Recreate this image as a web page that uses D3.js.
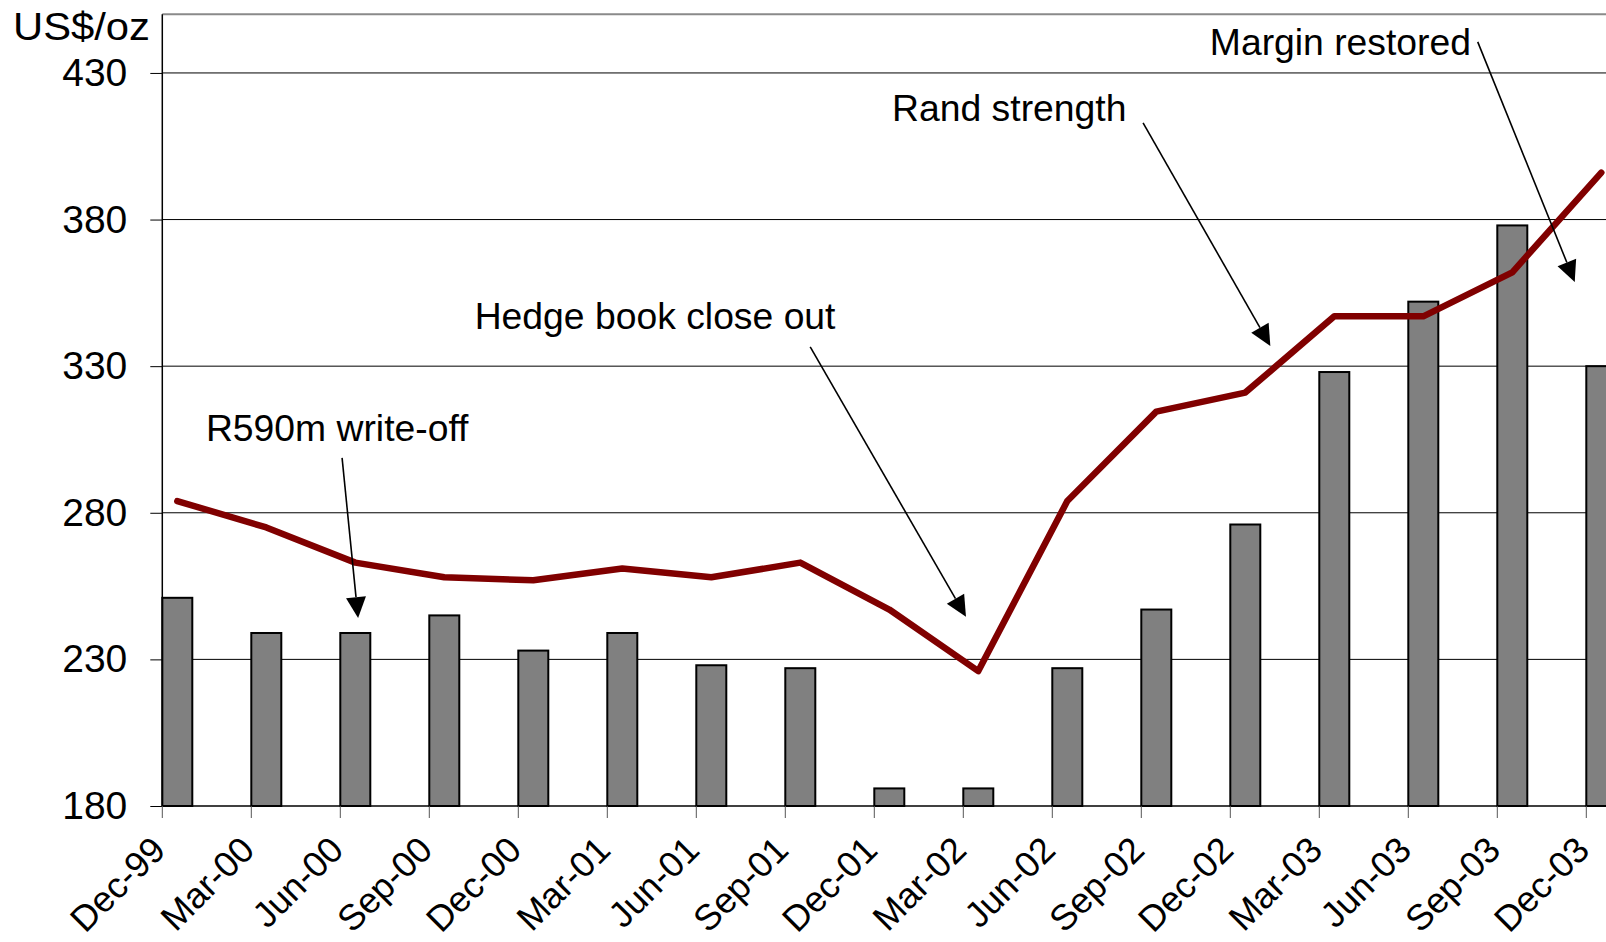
<!DOCTYPE html>
<html><head><meta charset="utf-8">
<script src="https://cdn.jsdelivr.net/npm/d3@7"></script>
<style>html,body{margin:0;padding:0;background:#fff;overflow:hidden}</style>
</head><body><svg id="c" width="1606" height="942"></svg>
<script>
// ---- data ----
const categories = ["Dec-99","Mar-00","Jun-00","Sep-00","Dec-00","Mar-01","Jun-01","Sep-01","Dec-01","Mar-02","Jun-02","Sep-02","Dec-02","Mar-03","Jun-03","Sep-03","Dec-03"];
const barValues  = [251, 239, 239, 245, 233, 239, 228, 227, 186, 186, 227, 247, 276, 328, 352, 378, 330];
const lineValues = [284, 275, 263, 258, 257, 261, 258, 263, 247, 226, 284, 314.5, 321, 347, 347, 362, 396];
const yTicks = [180, 230, 280, 330, 380, 430];
const yUnit = "US$/oz";
const annTexts = ["R590m write-off", "Hedge book close out", "Rand strength", "Margin restored"];
// annotation anchors in data space: [category index, value]
const annTextAt = [[0.49, 304.5], [3.51, 342.7], [8.20, 413.6], [11.77, 436.1]];
const annFrom   = [[2.02, 298.7], [7.28, 336.6], [11.02, 413.0], [14.78, 440.6]];
const annTip    = [[2.20, 244.1], [9.03, 244.5], [12.45, 336.9], [15.87, 358.7]];

(function () {
// ---- layout ----
const W = 1606, H = 942;
const pLeft = 162.3, pTop = 14.3, pBottom = 806;
const step = 89;
const font = "'Liberation Sans', Arial, Helvetica, sans-serif";

const svg = d3.select("#c");
const x = d3.scaleBand().domain(categories).range([pLeft, pLeft + step * categories.length]).paddingInner(0).paddingOuter(0);
const xi = d3.scaleLinear().domain([0, 1]).range([pLeft, pLeft + x.step()]);
const y = d3.scaleLinear().domain([180, 450]).range([pBottom, pTop]);
const barW = 30;

// gridlines
svg.append("g").selectAll("line").data(yTicks.slice(1)).join("line")
  .attr("x1", pLeft).attr("x2", W).attr("y1", d => y(d)).attr("y2", d => y(d))
  .attr("stroke", "#000").attr("stroke-width", 1);

// top border
svg.append("line").attr("x1", pLeft).attr("x2", W).attr("y1", y(450)).attr("y2", y(450))
  .attr("stroke", "#8a8a8a").attr("stroke-width", 2);

// bars
svg.append("g").selectAll("rect").data(categories).join("rect")
  .attr("x", d => x(d)).attr("width", barW)
  .attr("y", (d, i) => y(barValues[i])).attr("height", (d, i) => y(180) - y(barValues[i]))
  .attr("fill", "#808080").attr("stroke", "#000").attr("stroke-width", 2);

// y axis
const yAxis = d3.axisLeft(y).tickValues(yTicks).tickSize(12).tickPadding(23).tickFormat(d3.format("d"));
const gy = svg.append("g").attr("transform", `translate(${pLeft},0)`).call(yAxis);
gy.select(".domain").attr("stroke", "#000").attr("stroke-width", 1.5).attr("d", `M0,${y(450)}V${y(180)}`);
gy.selectAll(".tick line").attr("stroke", "#000");
gy.selectAll(".tick text").attr("font-family", font).attr("font-size", 39).attr("fill", "#000");

// x axis
const xAxis = d3.axisBottom(x).tickSize(12).tickSizeOuter(0);
const gx = svg.append("g").attr("transform", `translate(0,${pBottom})`).call(xAxis);
gx.select(".domain").attr("stroke", "#000").attr("stroke-width", 1.5).attr("d", `M${pLeft},0H${W}`);
gx.selectAll(".tick").attr("transform", d => `translate(${x(d)},0)`);
gx.selectAll(".tick line").attr("stroke", "#555");
gx.selectAll(".tick text")
  .attr("font-family", font).attr("font-size", 36).attr("fill", "#000")
  .attr("text-anchor", "end").attr("dy", null).attr("y", null)
  .attr("transform", "translate(5,46) rotate(-45)");

// line
const line = d3.line().x((d, i) => x(categories[i]) + barW / 2).y(d => y(d));
svg.append("path").datum(lineValues).attr("d", line)
  .attr("fill", "none").attr("stroke", "#800000").attr("stroke-width", 6.5)
  .attr("stroke-linejoin", "round").attr("stroke-linecap", "round");

// unit label
svg.append("text").attr("x", 13).attr("y", 40).text(yUnit)
  .attr("font-family", font).attr("font-size", 39).attr("fill", "#000")
  .attr("textLength", 137).attr("lengthAdjust", "spacingAndGlyphs");

// annotations
const ag = svg.append("g");
annTexts.forEach((t, k) => {
  ag.append("text").attr("x", xi(annTextAt[k][0])).attr("y", y(annTextAt[k][1])).text(t)
    .attr("font-family", font).attr("font-size", 37.3).attr("fill", "#000");
  const x1 = xi(annFrom[k][0]), y1 = y(annFrom[k][1]);
  const x2 = xi(annTip[k][0]), y2 = y(annTip[k][1]);
  const a = Math.atan2(y2 - y1, x2 - x1);
  const L = 21, hw = 10;
  const bx = x2 - L * Math.cos(a), by = y2 - L * Math.sin(a);
  ag.append("line").attr("x1", x1).attr("y1", y1).attr("x2", bx).attr("y2", by)
    .attr("stroke", "#000").attr("stroke-width", 1.6);
  const p = [[x2, y2], [bx + hw * Math.sin(a), by - hw * Math.cos(a)], [bx - hw * Math.sin(a), by + hw * Math.cos(a)]];
  ag.append("path").attr("d", "M" + p.map(q => q.join(",")).join("L") + "Z").attr("fill", "#000");
});
})();
</script></body></html>
